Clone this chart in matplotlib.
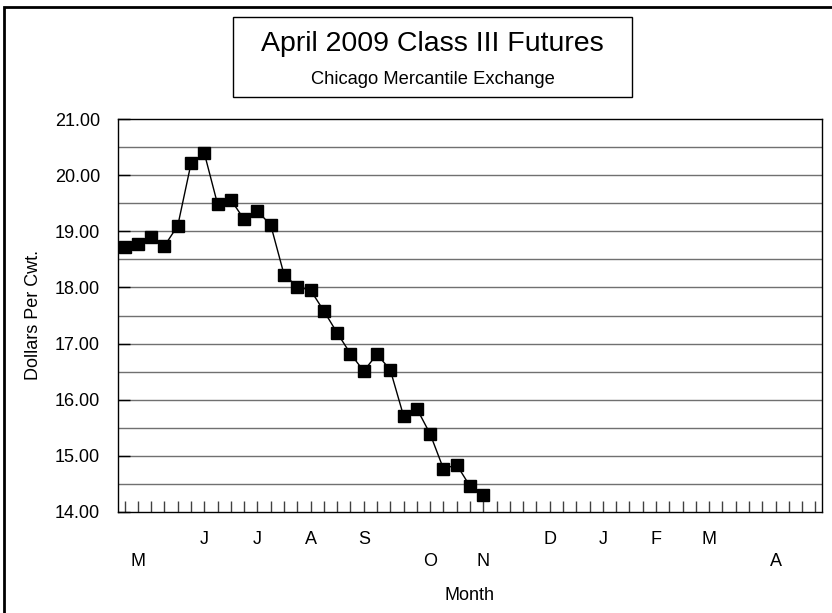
import matplotlib
matplotlib.use("Agg")
import matplotlib.pyplot as plt
from matplotlib.patches import Rectangle

plt.rcParams['font.family'] = ['Liberation Sans', 'DejaVu Sans']

# weekly settlement prices, April 2009 Class III contract
prices = [18.72, 18.78, 18.90, 18.74, 19.10, 20.21, 20.39, 19.48, 19.56, 19.21,
          19.36, 19.11, 18.23, 18.01, 17.95, 17.58, 17.19, 16.82, 16.51, 16.81,
          16.53, 15.71, 15.84, 15.39, 14.77, 14.84, 14.46, 14.31]
n_weeks = 53

months = ["M", "J", "J", "A", "S", "O", "N", "D", "J", "F", "M", "A"]
month_week = [1, 6, 10, 14, 18, 23, 27, 32, 36, 40, 44, 49]
month_row = [1, 0, 0, 0, 0, 1, 1, 0, 0, 0, 0, 1]

W, H = 832, 613
fig = plt.figure(figsize=(W / 100, H / 100), dpi=100)
ax = fig.add_axes([118 / W, 1 - 512 / H, (822 - 118) / W, (512 - 119) / H])

for y in [14.5 + 0.5 * i for i in range(13)]:
    ax.axhline(y, color="#707070", lw=1, zorder=1)

ax.plot(range(len(prices)), prices, color="black", lw=1, marker="s",
        markersize=8.5, markerfacecolor="black", markeredgecolor="black", zorder=3)

ax.set_xlim(-0.5, n_weeks - 0.5)
ax.set_ylim(14, 21)
ax.set_yticks(range(14, 22))
ax.set_yticklabels([f"{v:.2f}" for v in range(14, 22)])
ax.tick_params(axis="y", direction="in", length=8.5, width=1, color="black",
               labelsize=13, pad=13)
ax.set_xticks(range(n_weeks))
ax.set_xticklabels([])
ax.tick_params(axis="x", direction="in", length=8, width=1, color="#404040")
for s in ax.spines.values():
    s.set_color("black")
    s.set_linewidth(1)

for m, wk, row in zip(months, month_week, month_row):
    ax.text(wk, -(540 - 512) / 393 if row == 0 else -(562 - 512) / 393, m,
            transform=ax.get_xaxis_transform(), ha="center", va="center",
            fontsize=13)

fig.text(470 / W, 1 - 595 / H, "Month", ha="center", va="center", fontsize=13)
fig.text(33 / W, 1 - 315 / H, "Dollars Per Cwt.", rotation=90,
         ha="center", va="center", fontsize=13)

# title box
bx0, bx1, by0, by1 = 233, 632, 17, 97
fig.add_artist(Rectangle((bx0 / W, 1 - by1 / H), (bx1 - bx0) / W, (by1 - by0) / H,
                         transform=fig.transFigure, fill=False,
                         edgecolor="black", lw=1))
cx = (bx0 + bx1) / 2 / W
fig.text(cx, 1 - 44 / H, "April 2009 Class III Futures", ha="center",
         va="center", fontsize=20.5)
fig.text(cx, 1 - 80 / H, "Chicago Mercantile Exchange", ha="center",
         va="center", fontsize=13.2)

# outer chart frame (right/bottom edges fall outside the image)
fig.add_artist(Rectangle((4 / W, -0.1), 1.2, 1 - 7 / H + 0.1,
                         transform=fig.transFigure, fill=False,
                         edgecolor="black", lw=2))

fig.savefig("out.png", dpi=100)
